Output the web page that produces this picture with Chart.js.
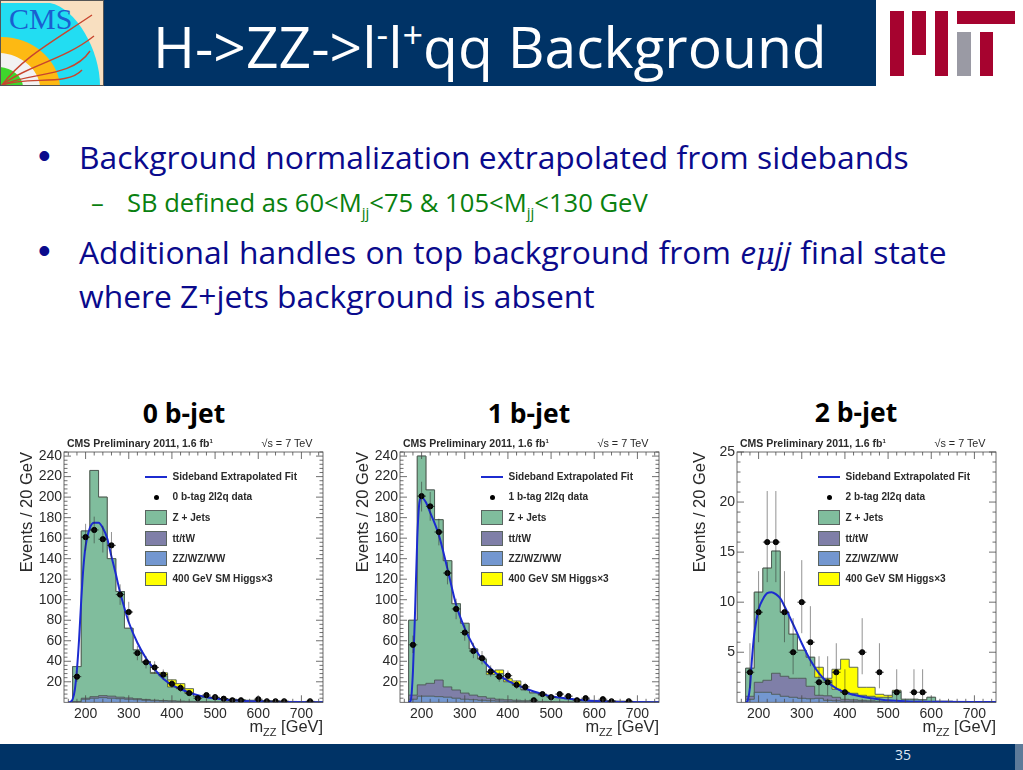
<!DOCTYPE html>
<html>
<head>
<meta charset="utf-8">
<title>H->ZZ->l-l+qq Background</title>
<script src="https://cdn.jsdelivr.net/npm/chart.js@4"></script>
<style>
html, body { margin: 0; padding: 0; background: #fff; }
#slide { position: relative; width: 1023px; height: 770px; overflow: hidden; font-family: "Open Sans", sans-serif; }
#slide div, #slide canvas, #slide svg { position: absolute; }
.line { white-space: nowrap; color: #0a0a8c; font-size: 31.8px; line-height: 40px; }
.sub { color: #0a800f; font-size: 25.6px; line-height: 30px; }
.bullet { font-family: "Liberation Sans", sans-serif; font-size: 36px; }
sub, sup { line-height: 0; }
.head { font-weight: 700; font-size: 26.5px; line-height: 30px; white-space: nowrap; width: 120px; text-align: center; color: #000; }
.root { font-family: "Liberation Sans", sans-serif; white-space: nowrap; color: #2a2a2a; }
.key { font-weight: 700; font-size: 10.1px; line-height: 12px; }
.box { width: 22.5px; height: 14.5px; box-sizing: border-box; border: 1px solid #5a6460; }
</style>
</head>
<body>
<div id="slide">
  <div style="left:104px;top:0;width:772px;height:86px;background:#003366"></div>
  <svg style="left:0;top:0" width="104" height="86" viewBox="0 0 104 86">
    <rect width="104" height="86" fill="#f8dfc0"/>
    <path d="M0 3 H50 C76 8 100 50 100 86 H0 Z" fill="#22ddf2"/>
    <path d="M0 37 C30 36 58 58 60 86 H0 Z" fill="#fdb913"/>
    <path d="M0 53 C20 54 38 68 40 86 H0 Z" fill="#f2f2f2"/>
    <path d="M0 67 C12 68 22 76 23 86 H0 Z" fill="#3ed62c"/>
    <g fill="none" stroke="#c8452e" stroke-width="1.4">
      <path d="M2 85 C22 58 52 42 92 15"/>
      <path d="M2 85 C26 66 64 60 94 36"/>
      <path d="M2 85 C30 72 72 78 90 51"/>
      <path d="M2 85 C30 76 68 86 82 70"/>
    </g>
    <text x="9" y="29" font-family="Liberation Serif" font-size="30" fill="#1a5fd0">CMS</text>
    <rect x="0.5" y="0.5" width="103" height="85" fill="none" stroke="#555"/>
  </svg>
  <div style="left:153px;top:8px;color:#fff;font-size:57px;line-height:76px;white-space:nowrap">H-&gt;ZZ-&gt;l<sup style="font-size:36px">-</sup>l<sup style="font-size:36px">+</sup>qq Background</div>
  <svg style="left:888px;top:10px" width="132" height="68">
    <g fill="#a6032f">
      <rect x="2" y="1" width="14" height="65"/>
      <rect x="24" y="1" width="14" height="44"/>
      <rect x="47" y="1" width="13" height="65"/>
      <rect x="69" y="1" width="58" height="13"/>
      <rect x="92" y="22" width="13" height="44"/>
    </g>
    <rect x="69" y="22" width="14" height="44" fill="#9a9aa4"/>
  </svg>

  <div class="line bullet" style="left:38px;top:136px">•</div>
  <div class="line" style="left:79px;top:137px">Background normalization extrapolated from sidebands</div>
  <div class="line sub" style="left:91px;top:188px">–</div>
  <div class="line sub" style="left:127px;top:188px">SB defined as 60&lt;M<sub style="font-size:15px">jj</sub>&lt;75 &amp; 105&lt;M<sub style="font-size:15px">jj</sub>&lt;130 GeV</div>
  <div class="line bullet" style="left:38px;top:231px">•</div>
  <div class="line" style="left:79px;top:232px;word-spacing:1px">Additional handles on top background from <i>e</i><i style="font-family:'DejaVu Serif';font-size:29px">μ</i><i>jj</i> final state</div>
  <div class="line" style="left:79px;top:276px">where Z+jets background is absent</div>

  <div class="head" style="left:124px;top:398px">0 b-jet</div>
  <div class="head" style="left:469px;top:398px">1 b-jet</div>
  <div class="head" style="left:796px;top:397px">2 b-jet</div>

  <canvas id="chart0" width="322" height="300" style="left:10px;top:440px"></canvas>
  <canvas id="chart1" width="322" height="300" style="left:346px;top:440px"></canvas>
  <canvas id="chart2" width="322" height="300" style="left:683px;top:440px"></canvas>

  <div style="left:0;top:744px;width:1023px;height:26px;background:#003366"></div>
  <div style="left:1015px;top:744px;width:8px;height:26px;background:#5d7a99"></div>
  <div style="left:895px;top:745px;color:#dfe8f2;font-size:14px;line-height:20px">35</div>
</div>

<script>
// bin edges shared by the three histograms, 20 GeV wide
const binEdges = [170, 190, 210, 230, 250, 270, 290, 310, 330, 350, 370, 390, 410, 430, 450, 470, 490, 510, 530, 550, 570, 590, 610, 630, 650, 670, 690, 710, 730, 750];
const xTicks = [200, 300, 400, 500, 600, 700];
const yTicksLarge = [20, 40, 60, 80, 100, 120, 140, 160, 180, 200, 220, 240];
const yTicksSmall = [5, 10, 15, 20, 25];

// 0 b-jet
const diboson0 = [0.5, 3, 4, 4.5, 4, 3.5, 3, 2.5, 2, 1.5, 1.2, 1, 0.8, 0.6, 0.5, 0.4, 0.3, 0.3, 0.2, 0.2, 0.1, 0.1, 0.1, 0.1, 0, 0, 0, 0, 0];
const ttw0 = [0.3, 1, 1.5, 2, 2, 1.5, 1.2, 1, 0.8, 0.6, 0.5, 0.4, 0.3, 0.3, 0.2, 0.2, 0.1, 0.1, 0.1, 0, 0, 0, 0, 0, 0, 0, 0, 0, 0];
const zjets0 = [34, 163, 220.5, 193.5, 134, 103, 68, 47.5, 37, 26, 24, 13.5, 12.1, 7.9, 5, 4.3, 4, 3, 2.6, 2.2, 1.8, 1.6, 1.3, 1.1, 1, 0.8, 0.7, 0.5, 0.4];
const higgs0 = [0, 0, 0, 0, 0, 0, 0, 0, 0, 1, 3, 7, 5, 4.5, 0.5, 0.3, 0.2, 0.1, 0, 0, 0, 0, 0, 0, 0, 0, 0, 0, 0];
const fitX0 = [160, 165, 170, 175, 180, 185, 190, 195, 200, 210, 220, 230, 240, 250, 260, 270, 280, 290, 300, 320, 340, 360, 380, 400, 420, 440, 460, 480, 500, 520, 540, 560, 580, 600, 640, 680, 750];
const fitY0 = [0, 0.5, 3, 12, 32, 62, 100, 132, 152, 170, 175, 175, 170, 160, 142, 125, 107, 92, 78, 58, 43, 32, 23, 17, 13, 9.5, 7, 5, 3.8, 2.8, 2, 1.4, 1, 0.8, 0.4, 0.2, 0.1];
const dataX0 = [180, 200, 220, 240, 260, 280, 300, 320, 340, 360, 380, 400, 420, 440, 460, 480, 500, 520, 540, 560, 600, 620, 640, 660, 720];
const dataY0 = [25, 161, 168, 159, 153, 105, 88, 48, 39, 34, 27, 18, 14, 9, 4, 7, 5, 3.5, 2, 2, 3, 1, 1, 1, 1];
const dataHi0 = [31, 174, 181, 172, 166, 115, 98, 55, 45, 40, 32, 22, 18, 12, 6, 10, 7, 5, 3.5, 3.5, 5, 2.3, 2.3, 2.3, 2.3];
const dataLo0 = [20, 148, 155, 146, 140, 95, 78, 41, 33, 28, 22, 14, 10, 6, 2, 4, 3, 2, 0.7, 0.7, 1.4, 0.2, 0.2, 0.2, 0.2];

// 1 b-jet
const diboson1 = [3, 6, 6, 5.5, 5, 4, 3, 2.5, 2, 1.5, 1.2, 1, 0.8, 0.6, 0.5, 0.4, 0.3, 0.3, 0.2, 0.2, 0.1, 0.1, 0.1, 0, 0, 0, 0, 0, 0];
const ttw1 = [4, 11, 12.5, 16.2, 10, 8, 6, 4.5, 3.5, 2.5, 1.8, 1.5, 1.2, 0.9, 0.5, 0.4, 0.3, 0.2, 0.2, 0.1, 0.1, 0.1, 0, 0, 0, 0, 0, 0, 0];
const zjets1 = [73, 223, 188.5, 156.3, 123, 84, 68, 45, 36.5, 23, 25, 17.5, 14.8, 10.5, 8, 6.2, 4.9, 4, 3.1, 2.5, 2, 1.6, 1.4, 1.2, 1, 0.8, 0.6, 0.5, 0.4];
const higgs1 = [0, 0, 0, 0, 0, 0, 0, 0, 0, 2, 3.5, 3, 4, 0.5, 0.3, 0.2, 0.1, 0, 0, 0, 0, 0, 0, 0, 0, 0, 0, 0, 0];
const fitX1 = [170, 175, 180, 185, 190, 195, 200, 210, 220, 240, 260, 280, 300, 320, 340, 360, 380, 400, 420, 440, 460, 480, 500, 520, 540, 560, 580, 600, 620, 640, 660, 700, 750];
const fitY1 = [0, 2, 30, 90, 160, 195, 200, 195, 185, 163, 130, 95, 72, 55, 42, 33, 26, 21, 17, 13.5, 10.5, 8, 6, 4.7, 3.5, 2.5, 1.8, 1.3, 0.9, 0.6, 0.4, 0.2, 0.1];
const dataX1 = [180, 200, 220, 240, 260, 280, 300, 320, 340, 360, 380, 400, 420, 440, 460, 480, 500, 520, 540, 560, 580, 620, 640, 680];
const dataY1 = [56, 201, 191, 166, 126, 91, 68, 50, 43, 30, 25, 26, 17, 15, 2, 8, 5, 8, 6, 2, 4, 3, 1, 1];
const dataHi1 = [65, 215, 205, 179, 137, 101, 76, 58, 50, 36, 30, 31, 21, 19, 3.5, 11, 7, 11, 8.5, 3.5, 6, 5, 2.3, 2.3];
const dataLo1 = [48, 186, 177, 153, 115, 81, 60, 43, 37, 25, 20, 21, 13, 11, 0.7, 5, 3, 5, 3.6, 0.7, 2, 1.4, 0.2, 0.2];

// 2 b-jet
const diboson2 = [0.3, 1, 1, 0.8, 0.6, 0.5, 0.4, 0.35, 0.4, 0.2, 0.15, 0.1, 0.1, 0.1, 0.05, 0.05, 0, 0, 0, 0, 0, 0, 0, 0, 0, 0, 0, 0, 0];
const ttw2 = [0.3, 1, 1.2, 2.1, 2, 1.9, 2, 1.25, 0.3, 0.45, 0.35, 0.2, 0.15, 0.1, 0.1, 0.05, 0.05, 0, 0, 0, 0, 0, 0, 0, 0, 0, 0, 0, 0];
const zjets2 = [2.8, 9, 11.2, 12.2, 6.4, 4.4, 2.8, 2.9, 1.8, 1.55, 0.8, 0.7, 0.65, 0.5, 0.45, 0.4, 0.45, 1.1, 0.3, 0.3, 0.25, 0.5, 0.1, 0.1, 0.05, 0.05, 0.05, 0.05, 0.05];
const higgs2 = [0, 0, 0, 0, 0, 0, 0, 0, 1, 0.2, 2, 3.3, 2.6, 0.8, 0.9, 0.3, 0.2, 0.1, 0, 0, 0, 0, 0, 0, 0, 0, 0, 0, 0];
const fitX2 = [172, 175, 180, 185, 190, 195, 200, 210, 220, 230, 240, 250, 260, 280, 300, 320, 340, 360, 380, 400, 420, 440, 460, 480, 500, 540, 600, 750];
const fitY2 = [0, 0.2, 1.5, 4.5, 6.8, 8.2, 9.3, 10.3, 10.9, 11, 10.8, 10.4, 9.6, 7.8, 5.9, 4.2, 2.9, 2, 1.4, 1, 0.75, 0.55, 0.4, 0.3, 0.2, 0.1, 0.05, 0.02];
const dataX2 = [180, 200, 220, 240, 260, 280, 300, 320, 340, 360, 380, 400, 440, 480, 520, 560, 580];
const dataY2 = [3, 9, 16, 16, 9, 5, 10, 6, 2, 2, 3, 1, 5, 3, 1, 1, 1];
const dataHi2 = [5.9, 13.1, 21.1, 21.1, 13.1, 8.4, 14.2, 9.6, 4.6, 4.6, 5.9, 3.3, 8.4, 5.9, 3.3, 3.3, 3.3];
const dataLo2 = [1.4, 6, 12, 12, 6, 2.8, 6.9, 3.6, 0.7, 0.7, 1.4, 0.2, 2.8, 1.4, 0.2, 0.2, 0.2];

const legendLabels = ['Sideband Extrapolated Fit', ' b-tag 2l2q data', 'Z + Jets', 'tt/tW', 'ZZ/WZ/WW', '400 GeV SM Higgs×3'];
const colors = { fit: '#1c2bd0', zjets: '#80bd9d', ttw: '#7f7fa8', diboson: '#7397d0', higgs: '#ffff00', edge: '#4d5a55' };

// turns per-bin heights into a step outline; top of the stack is the running sum
function stepLine(layers) {
    const pts = [{ x: binEdges[0], y: 0 }];
    layers[0].forEach(function (v, i) {
        let sum = 0;
        layers.forEach(function (l) { sum += l[i]; });
        pts.push({ x: binEdges[i], y: sum });
    });
    pts.push({ x: binEdges[binEdges.length - 1], y: 0 });
    return pts;
}

function histDataset(label, layers, color, order) {
    return {
        label: label,
        data: stepLine(layers),
        stepped: true,
        fill: 'origin',
        backgroundColor: color,
        borderColor: colors.edge,
        borderWidth: 0.9,
        pointRadius: 0,
        order: order,
    };
}

// ROOT style frame: ticks inside on all four sides, plus the error bars
const rootFrame = {
    id: 'rootFrame',
    afterDatasetsDraw(chart, args, opts) {
        const c = chart.ctx;
        const a = chart.chartArea;
        const sx = chart.scales.x;
        const sy = chart.scales.y;
        c.save();
        c.beginPath();
        c.rect(a.left, a.top, a.width, a.height);
        c.clip();
        c.lineWidth = 1;
        opts.dataX.forEach(function (x, i) {
            const px = sx.getPixelForValue(x);
            const py = sy.getPixelForValue(opts.dataY[i]);
            c.strokeStyle = 'rgba(40,40,40,0.5)';
            c.beginPath();
            c.moveTo(px, sy.getPixelForValue(opts.dataHi[i]));
            c.lineTo(px, sy.getPixelForValue(opts.dataLo[i]));
            c.stroke();
            c.strokeStyle = 'rgba(20,20,20,0.75)';
            c.beginPath();
            c.moveTo(sx.getPixelForValue(x - 10), py);
            c.lineTo(sx.getPixelForValue(x + 10), py);
            c.stroke();
        });
        c.restore();

        c.save();
        c.strokeStyle = '#4a4a4a';
        c.lineWidth = 0.8;
        c.strokeRect(a.left, a.top, a.width, a.height);
        c.beginPath();
        for (let v = 160; v <= sx.max; v += 20) {
            const px = sx.getPixelForValue(v);
            const len = v % 100 === 0 ? 7 : 3.5;
            c.moveTo(px, a.bottom); c.lineTo(px, a.bottom - len);
            c.moveTo(px, a.top); c.lineTo(px, a.top + len);
        }
        for (let v = opts.minorY; v <= sy.max; v += opts.minorY) {
            const py = sy.getPixelForValue(v);
            const len = v % opts.majorY === 0 ? 7 : 3.5;
            c.moveTo(a.left, py); c.lineTo(a.left + len, py);
            c.moveTo(a.right, py); c.lineTo(a.right - len, py);
        }
        c.stroke();
        c.restore();
    },
};

function makeChart(id, cfg) {
    return new Chart(document.getElementById(id), {
        type: 'line',
        data: {
            datasets: [
                { type: 'scatter', label: cfg.tag + legendLabels[1], data: cfg.dataX.map(function (x, i) { return { x: x, y: cfg.dataY[i] }; }), backgroundColor: '#000', borderColor: '#000', pointRadius: 2.6, showLine: false, order: 0 },
                { label: legendLabels[0], data: cfg.fitX.map(function (x, i) { return { x: x, y: cfg.fitY[i] }; }), borderColor: colors.fit, borderWidth: 2, pointRadius: 0, cubicInterpolationMode: 'monotone', fill: false, order: 1 },
                histDataset(legendLabels[4], [cfg.diboson], colors.diboson, 2),
                histDataset(legendLabels[3], [cfg.diboson, cfg.ttw], colors.ttw, 3),
                histDataset(legendLabels[2], [cfg.diboson, cfg.ttw, cfg.zjets], colors.zjets, 4),
                histDataset(legendLabels[5], [cfg.diboson, cfg.ttw, cfg.zjets, cfg.higgs], colors.higgs, 5),
            ],
        },
        options: {
            responsive: false,
            animation: false,
            devicePixelRatio: 1,
            layout: { padding: { top: 12, right: 9, left: 0, bottom: 0 } },
            plugins: {
                legend: { display: false },
                tooltip: { enabled: false },
                rootFrame: { dataX: cfg.dataX, dataY: cfg.dataY, dataHi: cfg.dataHi, dataLo: cfg.dataLo, minorY: cfg.minorY, majorY: cfg.majorY },
            },
            scales: {
                x: {
                    type: 'linear',
                    min: 150,
                    max: 750,
                    grid: { display: false, drawTicks: false },
                    border: { display: false },
                    afterBuildTicks: function (s) { s.ticks = xTicks.map(function (v) { return { value: v }; }); },
                    afterFit: function (s) { s.height = 37.7; },
                    ticks: { autoSkip: false, maxRotation: 0, padding: 3, color: '#2a2a2a', font: { family: 'Liberation Sans', size: 14 }, callback: function (v) { return String(v); } },
                },
                y: {
                    min: 0,
                    max: cfg.maxY,
                    grid: { display: false, drawTicks: false },
                    border: { display: false },
                    afterBuildTicks: function (s) { s.ticks = cfg.yTicks.map(function (v) { return { value: v }; }); },
                    afterFit: function (s) { s.width = 54; },
                    title: { display: true, text: 'Events / 20 GeV', align: 'end', color: '#2a2a2a', padding: { top: 8, bottom: 0 }, font: { family: 'Liberation Sans', size: 16.5 } },
                    ticks: { autoSkip: false, padding: 2, color: '#2a2a2a', font: { family: 'Liberation Sans', size: 14 }, callback: function (v) { return String(v); } },
                },
            },
        },
        plugins: [rootFrame],
    });
}

// header, legend and x title sit on top of each canvas as real text
function addOverlay(chart, tag) {
    const slide = document.getElementById('slide');
    const a = chart.chartArea;
    const left = chart.canvas.offsetLeft + a.left;
    const top = chart.canvas.offsetTop + a.top;
    function add(html, x, y, cls, extra) {
        const d = document.createElement('div');
        d.className = 'root ' + cls;
        d.innerHTML = html;
        d.style.cssText = 'left:' + (left + x) + 'px;top:' + (top + y) + 'px;' + (extra || '');
        slide.appendChild(d);
    }
    add('CMS Preliminary 2011, 1.6 fb<sup style="font-size:6px;vertical-align:4px">1</sup>', 3, -15, 'key', 'font-size:10.5px');
    add('√s = 7 TeV', 197.5, -15, '', 'font-size:10.8px;line-height:12px');
    add('m<sub style="font-size:11px">ZZ</sub> [GeV]', a.width - 90, a.height + 14, '', 'font-size:16.4px;line-height:20px;width:90px;text-align:right');

    const rows = [
        [legendLabels[0], 'line', 24.5],
        [tag + legendLabels[1], 'dot', 45],
        [legendLabels[2], colors.zjets, 65.5],
        [legendLabels[3], colors.ttw, 86.5],
        [legendLabels[4], colors.diboson, 106.5],
        [legendLabels[5], colors.higgs, 127],
    ];
    rows.forEach(function (r) {
        add(r[0], 108.5, r[2] - 6, 'key');
        if (r[1] === 'line') {
            add('', 80.7, r[2] - 1, '', 'width:22.5px;height:2px;background:' + colors.fit);
        } else if (r[1] === 'dot') {
            add('', 89.5, r[2] - 2.5, '', 'width:5px;height:5px;border-radius:50%;background:#000');
        } else {
            add('', 80.7, r[2] - 7.2, 'box', 'background:' + r[1]);
        }
    });
}

const chart0 = makeChart('chart0', { tag: '0', diboson: diboson0, ttw: ttw0, zjets: zjets0, higgs: higgs0, fitX: fitX0, fitY: fitY0, dataX: dataX0, dataY: dataY0, dataHi: dataHi0, dataLo: dataLo0, maxY: 244, yTicks: yTicksLarge, minorY: 4, majorY: 20 });
const chart1 = makeChart('chart1', { tag: '1', diboson: diboson1, ttw: ttw1, zjets: zjets1, higgs: higgs1, fitX: fitX1, fitY: fitY1, dataX: dataX1, dataY: dataY1, dataHi: dataHi1, dataLo: dataLo1, maxY: 244, yTicks: yTicksLarge, minorY: 4, majorY: 20 });
const chart2 = makeChart('chart2', { tag: '2', diboson: diboson2, ttw: ttw2, zjets: zjets2, higgs: higgs2, fitX: fitX2, fitY: fitY2, dataX: dataX2, dataY: dataY2, dataHi: dataHi2, dataLo: dataLo2, maxY: 25, yTicks: yTicksSmall, minorY: 1, majorY: 5 });
addOverlay(chart0, '0 ');
addOverlay(chart1, '1 ');
addOverlay(chart2, '2 ');
</script>
</body>
</html>
